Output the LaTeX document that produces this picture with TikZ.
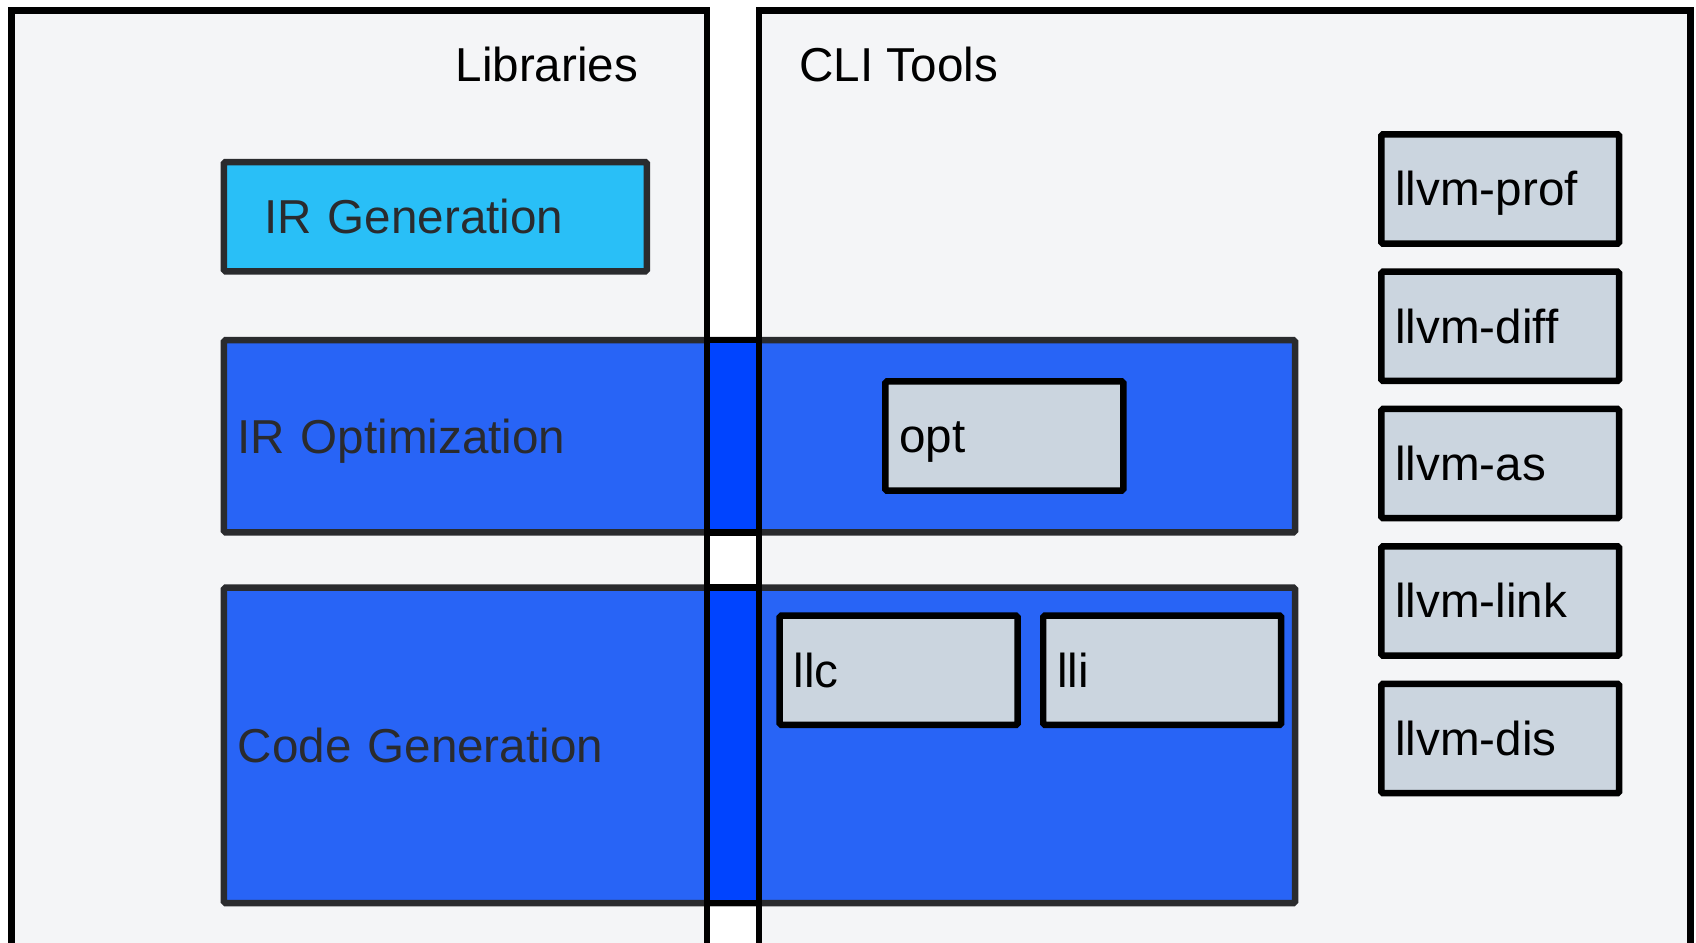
\documentclass[tikz,border=0pt]{standalone}
\usepackage{fontspec}
\setmainfont{Liberation Sans}
\newcommand\lblfont{\fontsize{44pt}{50pt}\selectfont}
\definecolor{framebg}{HTML}{F4F5F7}
\definecolor{cyanbox}{HTML}{29BFF7}
\definecolor{bluebox}{HTML}{2864F6}
\definecolor{gapblue}{HTML}{0044FF}
\definecolor{toolfill}{HTML}{CBD5DF}
\definecolor{dk}{HTML}{2A2B2E}
\begin{document}
\begin{tikzpicture}[x=1pt,y=-1pt,
  basebox/.style={rectangle, rounded corners=1.5pt, line width=6pt, inner ysep=0pt, outer sep=0pt,
    text height=40pt, text depth=9pt, align=left, anchor=north west, font=\lblfont},
  libbox/.style={basebox, draw=dk, text=dk},
  toolbox/.style={basebox, draw=black, fill=toolfill, text=black, inner xsep=13pt,
    text width=194pt, minimum height=101pt},
  framelabel/.style={anchor=base west, inner sep=0pt, font=\lblfont, text=black},
  frameline/.style={draw=black, line width=6pt},
  gapedge/.style={draw=black, line width=6pt}
]
\useasboundingbox (0,0) rectangle (1568,871);
\fill[white] (0,0) rectangle (1568,871);
% frame backgrounds
\fill[framebg] (10.6,9.8) rectangle (653.5,885);
\fill[framebg] (701.8,9.8) rectangle (1563,885);
% library boxes
\node[libbox, fill=cyanbox, inner xsep=37.5pt, text width=316pt, minimum height=101pt] (irgen) at (207,149.8) {IR Generation};
\node[libbox, fill=bluebox, inner xsep=12.5pt, text width=965.3pt, minimum height=177.7pt] (iropt) at (207,314.5) {IR Optimization};
\node[libbox, fill=bluebox, inner xsep=13pt, text width=964.3pt, minimum height=291.6pt] (codegen) at (207,543.3) {Code Generation};
% gap between the two frames
\fill[gapblue] (653.5,314.5) rectangle (701.8,492.2);
\fill[gapblue] (653.5,543.3) rectangle (701.8,834.9);
\draw[gapedge] (653.5,314.5) -- (701.8,314.5);
\draw[gapedge] (653.5,492.2) -- (701.8,492.2);
\draw[gapedge] (653.5,543.3) -- (701.8,543.3);
\draw[gapedge] (653.5,834.9) -- (701.8,834.9);
% frame borders
\draw[frameline] (10.6,890) -- (10.6,9.8) -- (653.5,9.8) -- (653.5,890);
\draw[frameline] (701.8,890) -- (701.8,9.8) -- (1563,9.8) -- (1563,890);
% frame labels
\node[framelabel] (libs) at (421,75.5) {Libraries};
\node[framelabel] (cli) at (739,75.5) {CLI Tools};
% CLI tools
\node[toolbox] (opt) at (818.5,352.6) {opt};
\node[toolbox] (llc) at (720.8,569.2) {llc};
\node[toolbox] (lli) at (964.5,569.2) {lli};
\node[toolbox] (prof) at (1277,124.2) {llvm-prof};
\node[toolbox] (diff) at (1277,251.2) {llvm-diff};
\node[toolbox] (as) at (1277,378.1) {llvm-as};
\node[toolbox] (link) at (1277,505.1) {llvm-link};
\node[toolbox] (dis) at (1277,632.2) {llvm-dis};
\end{tikzpicture}
\end{document}
